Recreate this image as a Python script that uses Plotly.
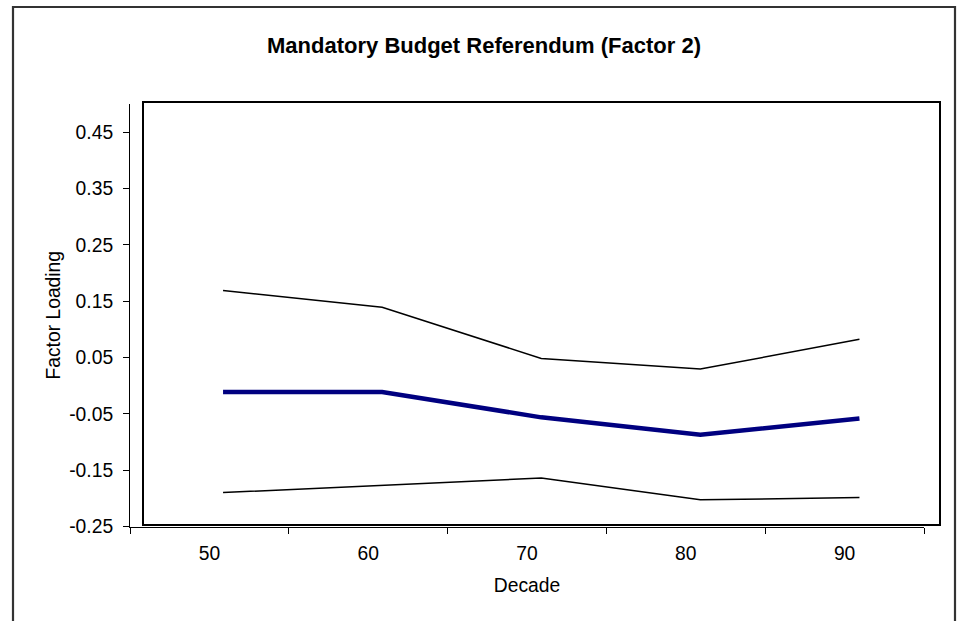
import plotly.graph_objects as go

# Factor loadings by decade: point estimate with upper and lower bounds
decades = ["50", "60", "70", "80", "90"]
upper = [0.166, 0.136, 0.045, 0.026, 0.079]
loading = [-0.015, -0.015, -0.060, -0.091, -0.062]
lower = [-0.194, -0.181, -0.168, -0.207, -0.203]

y_ticks = [-0.25, -0.15, -0.05, 0.05, 0.15, 0.25, 0.35, 0.45]
y_range = [-0.25, 0.5]

W, H = 965, 621
FONT = "Arial, Liberation Sans, sans-serif"
LABEL_SIZE = 19.3


def px_x(v):
    return v / W


def px_y(v):
    return 1 - v / H


fig = go.Figure()

# Series drawn inside the framed plot box
fig.add_trace(go.Scatter(x=decades, y=upper, mode="lines",
                         line=dict(color="black", width=1.5),
                         xaxis="x", yaxis="y", hoverinfo="skip"))
fig.add_trace(go.Scatter(x=decades, y=loading, mode="lines",
                         line=dict(color="#000080", width=4.5),
                         xaxis="x", yaxis="y", hoverinfo="skip"))
fig.add_trace(go.Scatter(x=decades, y=lower, mode="lines",
                         line=dict(color="black", width=1.5),
                         xaxis="x", yaxis="y", hoverinfo="skip"))

# Transparent carrier trace so the labelled axes get their categories
fig.add_trace(go.Scatter(x=decades, y=loading, mode="lines",
                         line=dict(color="rgba(0,0,0,0)", width=0),
                         xaxis="x2", yaxis="y2", hoverinfo="skip"))

fig.update_layout(
    width=W, height=H,
    margin=dict(l=0, r=0, t=0, b=0),
    paper_bgcolor="white", plot_bgcolor="rgba(0,0,0,0)",
    showlegend=False,
    font=dict(family=FONT, size=LABEL_SIZE, color="black"),
    title=dict(text="<b>Mandatory Budget Referendum (Factor 2)</b>",
               x=px_x(484), y=px_y(45), xanchor="center", yanchor="middle",
               font=dict(family=FONT, size=22, color="black")),
    # plot box axes (frame only)
    xaxis=dict(domain=[px_x(143.5), px_x(939)], type="category",
               range=[-0.5, 4.5], showticklabels=False, ticks="",
               showgrid=False, zeroline=False, showline=True,
               linecolor="black", linewidth=1.6, mirror=True,
               anchor="y"),
    yaxis=dict(domain=[px_y(524), px_y(103)], range=y_range,
               showticklabels=False, ticks="", showgrid=False,
               zeroline=False, showline=True, linecolor="black",
               linewidth=1.6, mirror=True, anchor="x"),
    # labelled axes
    xaxis2=dict(domain=[px_x(130), px_x(924)], type="category",
                range=[-0.5, 4.5], tickson="boundaries", ticks="outside",
                ticklen=6, tickcolor="black", tickwidth=1,
                ticklabelstandoff=9,
                showgrid=False, zeroline=False, showline=True,
                linecolor="black", linewidth=1, anchor="y2",
                automargin=False,
                tickfont=dict(family=FONT, size=LABEL_SIZE),
                title=dict(text="Decade", standoff=15,
                           font=dict(family=FONT, size=LABEL_SIZE))),
    yaxis2=dict(domain=[px_y(526.5), px_y(104)], range=y_range,
                tickvals=y_ticks, ticktext=[f"{v:.2f}" for v in y_ticks],
                ticks="outside", ticklen=6, tickcolor="black", tickwidth=1,
                ticklabelstandoff=6,
                showgrid=False, zeroline=False, showline=True,
                linecolor="black", linewidth=1, anchor="x2",
                automargin=False,
                tickfont=dict(family=FONT, size=LABEL_SIZE),
                title=dict(text="Factor Loading", standoff=3,
                           font=dict(family=FONT, size=LABEL_SIZE))),
    shapes=[dict(type="rect", xref="paper", yref="paper",
                 x0=px_x(13), x1=px_x(955), y0=px_y(640), y1=px_y(7),
                 line=dict(color="#333333", width=2.2),
                 fillcolor="rgba(0,0,0,0)", layer="below")],
)

fig.write_html("out.html")
